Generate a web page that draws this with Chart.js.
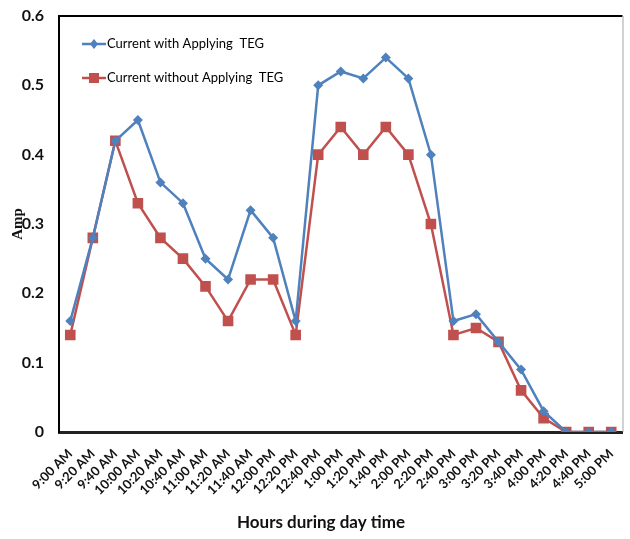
<!DOCTYPE html>
<html>
<head>
<meta charset="utf-8">
<script src="https://cdn.jsdelivr.net/npm/chart.js@4/dist/chart.umd.min.js"></script>
<style>
  html, body { margin: 0; padding: 0; background: #ffffff; }
  #wrap { width: 630px; height: 539px; position: relative; }
</style>
</head>
<body>
<div id="wrap"><canvas id="chart" width="630" height="539"></canvas></div>
<script>
// Sampling times over the day
const times = [
  '9:00 AM', '9:20 AM', '9:40 AM', '10:00 AM', '10:20 AM', '10:40 AM',
  '11:00 AM', '11:20 AM', '11:40 AM', '12:00 PM', '12:20 PM', '12:40 PM',
  '1:00 PM', '1:20 PM', '1:40 PM', '2:00 PM', '2:20 PM', '2:40 PM',
  '3:00 PM', '3:20 PM', '3:40 PM', '4:00 PM', '4:20 PM', '4:40 PM', '5:00 PM'
];

// Current (A) with the thermoelectric generator applied
const withTEG = [
  0.16, 0.28, 0.42, 0.45, 0.36, 0.33, 0.25, 0.22, 0.32, 0.28, 0.16, 0.50,
  0.52, 0.51, 0.54, 0.51, 0.40, 0.16, 0.17, 0.13, 0.09, 0.03, 0, 0, 0
];

// Current (A) without the thermoelectric generator
const withoutTEG = [
  0.14, 0.28, 0.42, 0.33, 0.28, 0.25, 0.21, 0.16, 0.22, 0.22, 0.14, 0.40,
  0.44, 0.40, 0.44, 0.40, 0.30, 0.14, 0.15, 0.13, 0.06, 0.02, 0, 0, 0
];

const yTicks = [0, 0.1, 0.2, 0.3, 0.4, 0.5, 0.6];

const xTitle = 'Hours during day time';

const BLUE = '#4F81BD';
const RED = '#C0504D';
const SANS = "Lato, 'DejaVu Sans Condensed', sans-serif";

// Frame around the plotting area (top and right edges)
const frame = {
  id: 'frame',
  afterDraw(chart) {
    const { ctx, chartArea: a } = chart;
    ctx.save();
    ctx.strokeStyle = '#000';
    ctx.lineWidth = 2;
    ctx.beginPath();
    ctx.moveTo(a.left - 1, a.top);
    ctx.lineTo(a.right, a.top);
    ctx.stroke();
    ctx.strokeStyle = '#a6a6a6';
    ctx.lineWidth = 1;
    ctx.beginPath();
    ctx.moveTo(a.right + 0.5, a.top);
    ctx.lineTo(a.right + 0.5, a.bottom);
    ctx.stroke();
    ctx.restore();
  }
};

// Horizontal axis caption, centred under the whole figure
const bottomCaption = {
  id: 'bottomCaption',
  afterDraw(chart) {
    const { ctx, width, height } = chart;
    ctx.save();
    ctx.font = 'bold 17px ' + SANS;
    ctx.fillStyle = '#111';
    ctx.textAlign = 'center';
    ctx.textBaseline = 'middle';
    ctx.fillText(xTitle, width / 2 + 6, height - 16);
    ctx.restore();
  }
};

// Two-row legend placed inside the upper-left corner of the plot
const innerLegend = {
  id: 'innerLegend',
  afterDraw(chart) {
    const { ctx, chartArea: a } = chart;
    ctx.save();
    ctx.font = '13px ' + SANS;
    ctx.textBaseline = 'middle';
    ctx.textAlign = 'left';
    chart.data.datasets.forEach((ds, i) => {
      const y = a.top + 28 + i * 34;
      const x0 = a.left + 23;
      const x1 = x0 + 24;
      ctx.strokeStyle = ds.borderColor;
      ctx.lineWidth = 2.5;
      ctx.beginPath();
      ctx.moveTo(x0, y);
      ctx.lineTo(x1, y);
      ctx.stroke();
      const cx = (x0 + x1) / 2;
      ctx.fillStyle = ds.backgroundColor;
      if (ds.pointStyle === 'rect') {
        ctx.fillRect(cx - 5, y - 5, 10, 10);
      } else {
        ctx.beginPath();
        ctx.moveTo(cx, y - 5);
        ctx.lineTo(cx + 4, y);
        ctx.lineTo(cx, y + 5);
        ctx.lineTo(cx - 4, y);
        ctx.closePath();
        ctx.fill();
      }
      ctx.fillStyle = '#000';
      ctx.fillText(ds.label, x1 + 1, y);
    });
    ctx.restore();
  }
};

new Chart(document.getElementById('chart'), {
  type: 'line',
  data: {
    labels: times,
    datasets: [
      {
        label: 'Current with Applying  TEG',
        data: withTEG,
        borderColor: BLUE,
        backgroundColor: BLUE,
        borderWidth: 2.5,
        pointStyle: 'rectRot',
        pointRadius: 5,
        pointBorderWidth: 0,
        tension: 0
      },
      {
        label: 'Current without Applying  TEG',
        data: withoutTEG,
        borderColor: RED,
        backgroundColor: RED,
        borderWidth: 2.5,
        pointStyle: 'rect',
        pointRadius: 7.5,
        pointBorderWidth: 0,
        tension: 0
      }
    ]
  },
  options: {
    responsive: false,
    animation: false,
    layout: { padding: { top: 16, right: 3, left: 0, bottom: 0 } },
    plugins: {
      legend: { display: false },
      tooltip: { enabled: false }
    },
    scales: {
      x: {
        offset: true,
        grid: { display: false, drawTicks: false },
        border: { display: true, color: '#222', width: 3 },
        ticks: {
          autoSkip: false,
          maxRotation: 45,
          minRotation: 45,
          padding: 14,
          color: '#111',
          font: { family: SANS, size: 13, weight: 'bold' }
        },
        title: { display: false },
        afterFit(scale) {
          scale.height = 107;
          scale.paddingLeft = 0;
          scale.paddingRight = 0;
        }
      },
      y: {
        min: 0,
        max: 0.6,
        afterBuildTicks(scale) { scale.ticks = yTicks.map(v => ({ value: v })); },
        grid: { display: false, drawTicks: false },
        border: { display: true, color: '#000', width: 2 },
        ticks: {
          padding: 15,
          color: '#111',
          font: { family: SANS, size: 16, weight: 'bold' },
          callback: v => String(v)
        },
        title: {
          display: true,
          text: 'Amp',
          color: '#111',
          font: { family: "'Liberation Serif', 'DejaVu Serif', serif", size: 15, weight: 'bold' },
          padding: { top: 9, bottom: 0 }
        },
        afterFit(scale) {
          scale.width = 59;
          scale.paddingTop = 0;
          scale.paddingBottom = 0;
        }
      }
    }
  },
  plugins: [frame, innerLegend, bottomCaption]
});
</script>
</body>
</html>
